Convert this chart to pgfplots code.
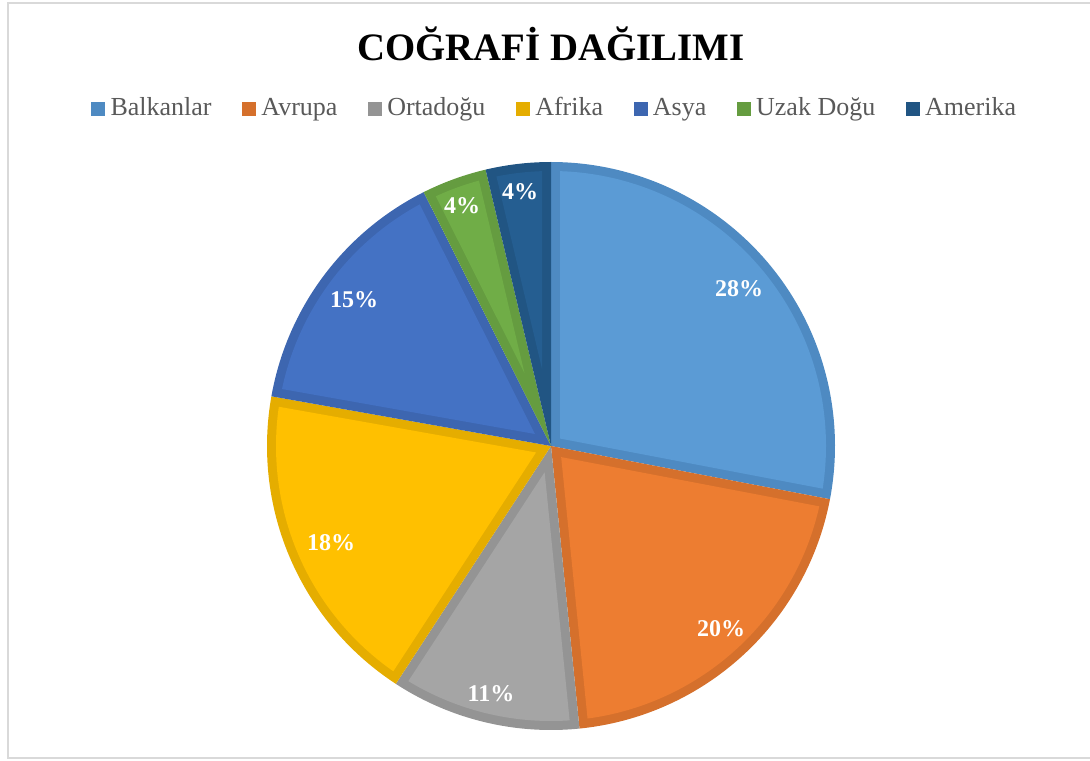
\documentclass[border=0pt]{standalone}
\usepackage{pgfplots}
\pgfplotsset{compat=1.18}
\usepackage{fontspec}
\setmainfont{Liberation Serif}
\definecolor{c1l}{HTML}{5B9BD5}\definecolor{c1d}{HTML}{4E8AC2}
\definecolor{c2l}{HTML}{ED7D31}\definecolor{c2d}{HTML}{D5702C}
\definecolor{c3l}{HTML}{A5A5A5}\definecolor{c3d}{HTML}{949494}
\definecolor{c4l}{HTML}{FFC000}\definecolor{c4d}{HTML}{E5AD00}
\definecolor{c5l}{HTML}{4472C4}\definecolor{c5d}{HTML}{3D66B0}
\definecolor{c6l}{HTML}{70AD47}\definecolor{c6d}{HTML}{659C40}
\definecolor{c7l}{HTML}{255E91}\definecolor{c7d}{HTML}{215583}
\definecolor{legtext}{HTML}{595959}
\newcommand\cx{551}
\newcommand\cy{314}
\newcommand\pieR{284}
\newcommand\pieW{9}
% #1 cumulative share before slice, #2 share, #3 border colour, #4 fill colour
\newcommand\slice[4]{%
\addplot[fill=#3, draw=none, domain={90-3.6*(#1+#2)}:{90-3.6*#1}, samples=120, variable=\t]
  ({\cx+\pieR*cos(\t)},{\cy+\pieR*sin(\t)}) -- (axis cs:\cx,\cy) -- cycle;
\addplot[forget plot, fill=#4, draw=none,
  domain={90-3.6*(#1+#2)+asin(\pieW/(\pieR-\pieW))}:{90-3.6*#1-asin(\pieW/(\pieR-\pieW))},
  samples=120, variable=\t]
  ({\cx+(\pieR-\pieW)*cos(\t)},{\cy+(\pieR-\pieW)*sin(\t)})
  -- (axis cs:{\cx+\pieW/sin(1.8*#2)*cos(90-3.6*#1-1.8*#2)},{\cy+\pieW/sin(1.8*#2)*sin(90-3.6*#1-1.8*#2)}) -- cycle;
}
\begin{document}
\begin{tikzpicture}
\useasboundingbox (0,0) rectangle (545pt,380pt);
\begin{axis}[at={(0,0)}, anchor=south west, x=0.5pt, y=0.5pt,
  xmin=0, xmax=1090, ymin=0, ymax=760, hide axis, clip=false,
  legend columns=7,
  legend style={at={(0.509,0.857)}, anchor=center, draw=none, fill=none,
    font=\fontsize{13}{15}\selectfont, text=legtext,
    /tikz/every odd column/.append style={column sep=1.5pt},
    /tikz/every even column/.append style={column sep=14pt},
    nodes={inner sep=1.2pt, text height=0.88em, text depth=0.22em}},
  legend image code/.code={\fill[#1] (0pt,-3.5pt) rectangle (7pt,3.5pt);},
]
\draw[color=black!15, line width=0.8pt] (axis cs:8,2) rectangle (axis cs:1100,757);
\slice{0}{28}{c1d}{c1l}
\slice{28}{20.4}{c2d}{c2l}
\slice{48.4}{10.8}{c3d}{c3l}
\slice{59.2}{18.6}{c4d}{c4l}
\slice{77.8}{14.8}{c5d}{c5l}
\slice{92.6}{3.7}{c6d}{c6l}
\slice{96.3}{3.7}{c7d}{c7l}
\legend{Balkanlar,Avrupa,Ortadoğu,Afrika,Asya,Uzak Doğu,Amerika}
\node[font=\bfseries\fontsize{19.4}{22}\selectfont] at (axis cs:551,716) {COĞRAFİ DAĞILIMI};
\tikzset{lab/.style={font=\bfseries\fontsize{12}{14}\selectfont, text=white}}
\node[lab] at (axis cs:739,471) {28\%};
\node[lab] at (axis cs:721,131) {20\%};
\node[lab] at (axis cs:491,66) {11\%};
\node[lab] at (axis cs:331,217) {18\%};
\node[lab] at (axis cs:354,460) {15\%};
\node[lab] at (axis cs:462,554) {4\%};
\node[lab] at (axis cs:520,568) {4\%};
\end{axis}
\end{tikzpicture}
\end{document}
